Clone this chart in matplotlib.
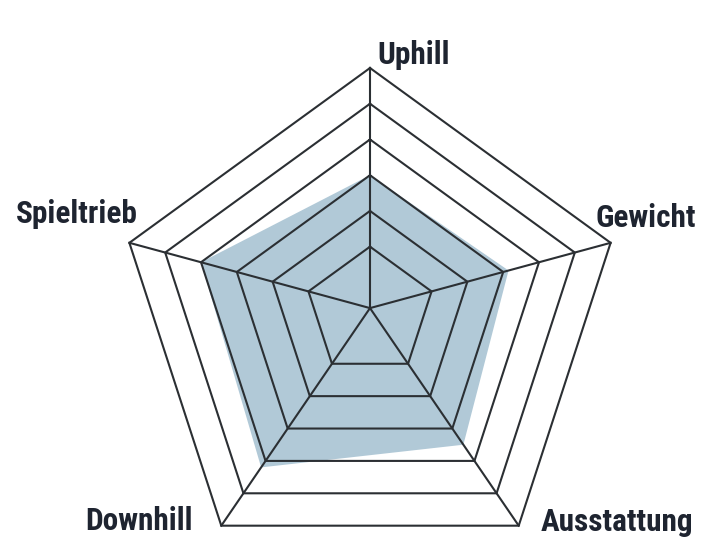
import numpy as np
import matplotlib
matplotlib.use("Agg")
import matplotlib.pyplot as plt
from matplotlib import font_manager as fm

# ---- data ----
categories = ["Uphill", "Gewicht", "Ausstattung", "Downhill", "Spieltrieb"]
values = [3.0, 3.15, 3.5, 4.2, 4.0]
levels = [1, 2, 3, 4, 5, 6]
max_level = 6

# ---- font selection (condensed bold if available) ----
names = {f.name for f in fm.fontManager.ttflist}
font_kw = dict(family="DejaVu Sans", fontstretch="condensed")
for cand in ["Roboto Condensed", "Liberation Sans Narrow", "Open Sans Condensed",
             "DejaVu Sans Condensed", "Noto Sans Condensed"]:
    if cand in names:
        font_kw = dict(family=cand)
        break

# ---- geometry ----
n = len(categories)
angles = np.pi / 2 - 2 * np.pi * np.arange(n) / n
verts = np.column_stack([np.cos(angles), np.sin(angles)])
hub = np.array([0.0, 0.051])
r0 = 0.107

def radius(v):
    return r0 + (1 - r0) * v / max_level

def point(i, v):
    return hub + radius(v) * (verts[i] - hub)

line_color = "#2b2f33"
fill_color = "#b1c9d7"

fig = plt.figure(figsize=(7.12, 5.59), dpi=100)
ax = fig.add_axes([0, 0, 1, 1])
s = 253.0
ax.set_xlim(-370 / s, (712 - 370) / s)
ax.set_ylim(-(559 - 321) / s, 321 / s)
ax.axis("off")

# filled data polygon
pts = np.array([point(i, v) for i, v in enumerate(values)])
ax.fill(pts[:, 0], pts[:, 1], color=fill_color, zorder=1, lw=0)

# rings
for lv in levels:
    ring = np.array([point(i, lv) for i in range(n)] + [point(0, lv)])
    ax.plot(ring[:, 0], ring[:, 1], color=line_color, lw=1.5, zorder=2,
            solid_joinstyle="miter")

# spokes
for i in range(n):
    end = point(i, max_level)
    ax.plot([hub[0], end[0]], [hub[1], end[1]], color=line_color, lw=1.5, zorder=2)

# labels
label_cfg = {
    "Uphill": dict(off=(7, 4), ha="left"),
    "Gewicht": dict(off=(-15, 16), ha="left"),
    "Ausstattung": dict(off=(22, -5), ha="left"),
    "Downhill": dict(off=(-29, -4), ha="right"),
    "Spieltrieb": dict(off=(8, 20), ha="right"),
}
for i, cat in enumerate(categories):
    cfg = label_cfg[cat]
    v = point(i, max_level)
    ax.annotate(cat, xy=(v[0], v[1]), xytext=cfg["off"], textcoords="offset pixels",
                ha=cfg["ha"], va="baseline", fontsize=22.5, fontweight="bold",
                color="#1e2430", **font_kw)

fig.savefig("out.png", dpi=100)
